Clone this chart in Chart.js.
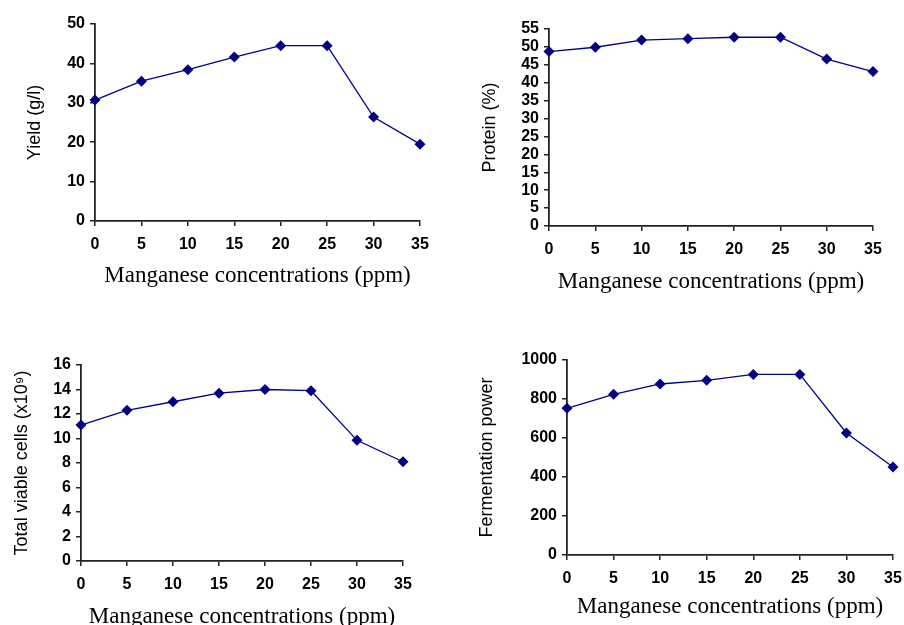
<!DOCTYPE html>
<html lang="en">
<head>
<meta charset="UTF-8">
<title>Manganese concentrations</title>
<style>
  body { margin: 0; background: #fff; }
  .box { position: absolute; }
</style>
</head>
<body>
<div class="box" style="left:0px;top:0px;"><canvas id="c1" width="450" height="300"></canvas></div>
<div class="box" style="left:450px;top:0px;"><canvas id="c2" width="454" height="300"></canvas></div>
<div class="box" style="left:0px;top:330px;"><canvas id="c3" width="450" height="295"></canvas></div>
<div class="box" style="left:450px;top:330px;"><canvas id="c4" width="454" height="295"></canvas></div>

<script src="https://cdn.jsdelivr.net/npm/chart.js"></script>
<script>
// data
const manganese = [0, 5, 10, 15, 20, 25, 30, 35];
const yieldGl = [30.7, 35.5, 38.4, 41.6, 44.5, 44.5, 26.4, 19.5];
const proteinPct = [48.7, 49.9, 51.9, 52.3, 52.7, 52.7, 46.6, 43.1];
const viableCells = [11.1, 12.3, 13.0, 13.7, 14.0, 13.9, 9.85, 8.1];
const fermPower = [752, 824, 877, 896, 926, 926, 626, 451];

const xTitle = "Manganese concentrations (ppm)";

function makeChart(id, values, yTitle, yMax, yStep, area, xAxisH, yTitleX, xTickPad, xTitleY, boxH, boxW) {
  const titleFont = { family: "Liberation Sans, Arial", size: 18 };
  const yTitleLH = 18 * 1.2;
  const xFont = { family: "Liberation Serif, Times New Roman", size: 23 };
  const xLH = 23 * 1.2;
  const tickFont = { family: "Liberation Sans, Arial", size: 16, weight: "bold" };
  new Chart(document.getElementById(id), {
    type: "line",
    data: {
      datasets: [{
        data: manganese.map((m, i) => ({ x: m, y: values[i] })),
        borderColor: "#00008b",
        backgroundColor: "#000080",
        borderWidth: 1.3,
        pointStyle: "rectRot",
        pointRadius: 5.5,
        pointBorderWidth: 0,
        tension: 0,
        clip: false
      }]
    },
    options: {
      responsive: false,
      animation: false,
      layout: {
        padding: {
          left: 0,
          top: area.top,
          right: boxW - area.right,
          bottom: boxH - area.bottom - xAxisH
        }
      },
      plugins: { legend: { display: false }, tooltip: { enabled: false } },
      scales: {
        x: {
          type: "linear",
          min: 0, max: 35,
          afterFit: (s) => { s.height = xAxisH; s.paddingLeft = 0; s.paddingRight = 0; },
          ticks: { stepSize: 5, autoSkip: false, maxRotation: 0, color: "#000", padding: xTickPad, font: tickFont },
          grid: { drawOnChartArea: false, drawTicks: true, tickLength: 5, color: "#222", lineWidth: 1.5 },
          border: { color: "#222", width: 1.8 },
          title: { display: true, text: xTitle, color: "#000", font: xFont,
                   padding: { top: 0, bottom: area.bottom + xAxisH - xTitleY - xLH / 2 } }
        },
        y: {
          min: 0, max: yMax,
          afterFit: (s) => { s.width = area.left; s.paddingTop = 0; s.paddingBottom = 0; },
          ticks: { stepSize: yStep, autoSkip: false, color: "#000", padding: 5, font: tickFont,
                   callback: (v) => String(v) },
          grid: { drawOnChartArea: false, drawTicks: true, tickLength: 5, color: "#222", lineWidth: 1.5 },
          border: { color: "#222", width: 1.8 },
          title: { display: true, text: yTitle, color: "#000", font: titleFont,
                   padding: { top: yTitleX - yTitleLH / 2, bottom: 0 } }
        }
      }
    }
  });
}

makeChart("c1", yieldGl, "Yield (g/l)", 50, 10,
  { left: 95, right: 420, top: 24, bottom: 221 }, 70, 35, 9, 276, 300, 450);
makeChart("c2", proteinPct, "Protein (%)", 55, 5,
  { left: 99, right: 423, top: 29, bottom: 226 }, 70, 40, 9, 282, 300, 454);
makeChart("c3", viableCells, "Total viable cells (x10\u2079)", 16, 2,
  { left: 81, right: 403, top: 35, bottom: 231 }, 62, 22, 9, 287, 295, 450);
makeChart("c4", fermPower, "Fermentation power", 1000, 200,
  { left: 117, right: 443, top: 30, bottom: 225 }, 62, 37, 9, 277, 295, 454);
</script>
</body>
</html>
